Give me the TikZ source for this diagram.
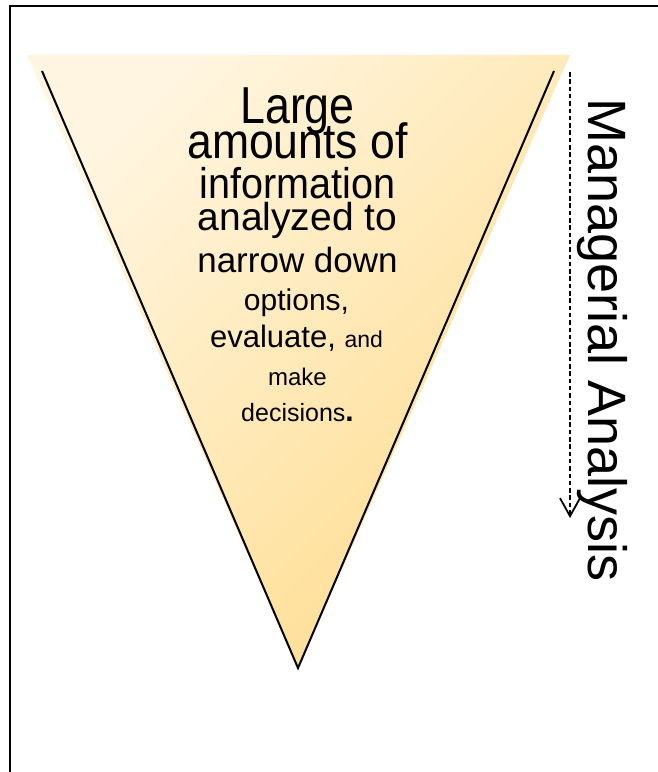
\documentclass[tikz,border=0pt]{standalone}
\usepackage{fontspec}
\setmainfont{Liberation Sans}
\usepackage{graphicx}
\usetikzlibrary{arrows.meta}
\definecolor{funtop}{RGB}{255,245,224}
\definecolor{funbot}{RGB}{255,221,144}
\newcommand{\setfs}[1]{\fontsize{#1bp}{#1bp}\selectfont}
\tikzset{
  txt/.style={anchor=base, inner sep=0pt, text=black},
  edgeline/.style={line width=2bp, line join=miter},
  flowarrow/.style={line width=2bp, dash pattern=on 4.5bp off 2.8bp,
    -{Straight Barb[length=18bp,width=20bp,line width=1.8bp]}},
}
\begin{document}
\begin{tikzpicture}[x=1bp,y=-1bp]
\path[use as bounding box, clip] (0,0) rectangle (658,772);
\draw[line width=2.6bp] (10,6) rectangle (700,800);
% funnel fill
\coordinate (tl) at (27,55);
\coordinate (tr) at (570,55);
\coordinate (ap) at (298,668);
\shade[top color=funtop, bottom color=funbot, shading angle=45] (tl) -- (tr) -- (ap) -- cycle;
% funnel edges
\coordinate (ll) at (42,71);
\coordinate (rl) at (554,71);
\draw[edgeline] (ll) -- (ap) -- (rl);
% dashed arrow
\coordinate (as) at (570,72);
\coordinate (ae) at (570,518);
\draw[flowarrow] (as) -- (ae);
% side label
\node[txt, rotate=-90] (side) at (588,340) {\setfs{54}Managerial Analysis};
% funnel text
\node[txt] (l1) at (297.5,123) {\setfs{52}\scalebox{0.86}[1]{Large}};
\node[txt] (l2) at (297.5,158) {\setfs{49.5}\scalebox{0.9}[1]{amounts of}};
\node[txt] (l3) at (297.5,198) {\setfs{43}\scalebox{0.92}[1]{information}};
\node[txt] (l4) at (297.5,230) {\setfs{39}analyzed to};
\node[txt] (l5) at (297.5,272) {\setfs{35}narrow down};
\node[txt] (l6) at (296.5,310) {\setfs{30}options,};
\node[txt] (l7) at (296.5,347) {\setfs{31}evaluate, \setfs{23}and};
\node[txt] (l8) at (297.5,385) {\setfs{24}make};
\node[txt] (l9) at (297.5,421) {\setfs{25}decisions{\setfs{30}\bfseries .}};
\end{tikzpicture}
\end{document}
